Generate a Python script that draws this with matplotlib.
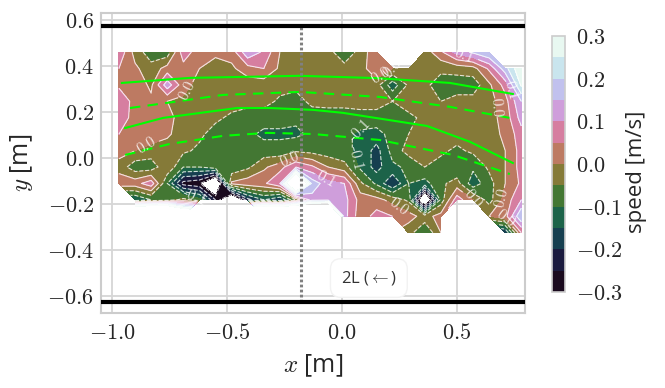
import numpy as np
import matplotlib
matplotlib.use("Agg")
import matplotlib.pyplot as plt

plt.rcParams["mathtext.fontset"] = "cm"
plt.rcParams["font.family"] = ["Open Sans", "DejaVu Sans"]

n = np.nan

# speed field, one row per y, top row first
x_grid = np.linspace(-0.97, 0.78, 26)
y_grid = np.linspace(0.46, -0.325, 12)
speed = np.array([
    [.09, -.02, -.08, -.08, .08, .02, .01, .02, .14, .09, .00, -.03, -.03, -.04, -.07, -.04, .05, n, n, -.03, .04, .12, .16, .20, n, n],
    [.05, .01, -.03, .02, .03, .00, -.02, -.01, .03, .05, -.01, -.03, -.03, -.03, -.04, -.03, .05, .00, -.02, -.03, -.04, -.03, -.02, .06, .18, .30],
    [.04, .03, -.01, .13, .02, -.02, -.03, -.03, -.03, -.03, -.03, -.03, -.03, -.03, -.03, -.03, -.03, -.13, -.04, -.04, -.07, -.08, -.08, -.01, .07, .26],
    [.09, .03, .01, .00, -.01, -.03, -.03, -.03, -.03, -.03, -.06, -.08, -.03, -.03, -.03, -.03, -.03, -.05, -.03, -.03, -.05, -.03, -.03, -.02, .03, .15],
    [.08, .03, .03, .015, -.02, -.03, -.04, -.06, -.08, -.08, -.09, -.09, -.09, -.08, -.08, -.07, -.07, -.08, -.06, -.04, -.03, -.03, -.03, -.02, .02, .12],
    [.05, .03, .03, .01, -.03, -.04, -.07, -.08, -.09, -.11, -.105, -.11, -.09, -.08, -.09, -.11, -.12, -.08, -.05, -.03, -.03, -.03, -.02, -.02, .01, .08],
    [.02, .00, -.02, -.03, -.04, -.06, -.08, -.09, -.08, -.08, -.09, -.06, -.07, -.08, -.09, -.11, -.17, -.08, -.03, -.03, -.04, -.06, -.04, -.03, .00, .07],
    [-.02, -.08, -.08, -.01, -.10, -.10, -.07, -.09, -.06, -.01, .03, .10, .06, .00, -.03, -.11, -.17, -.11, -.09, -.05, -.07, -.09, -.09, -.04, .00, .07],
    [.03, .03, .08, -.10, -.27, -.29, -.45, .01, .03, .04, .10, .60, .18, .12, .10, -.04, -.11, -.20, -.10, -.12, -.06, -.03, -.13, -.07, .00, .06],
    [n, -.15, -.10, -.08, -.03, -.08, -.25, -.45, -.22, -.15, -.20, -.05, .13, .14, .12, .03, .02, -.02, -.06, -.45, -.08, .08, .00, -.07, .02, .10],
    [n, 1.0, 1.0, 1.0, .60, n, n, n, n, 1.0, 1.0, 1.0, 1.0, 1.0, .12, .02, .07, .05, .02, -.02, .02, n, n, .00, .03, .20],
    [n, n, n, n, n, n, n, n, n, n, n, n, n, n, n, n, n, n, -.03, -.10, .00, n, n, n, -.20, .05],
])

speed_levels = [-.3, -.25, -.2, -.15, -.1, -.05, 0.0, .05, .1, .15, .2, .25, .3]
labelled_levels = [-.1, 0.0, .1]
plain_levels = [-.3, -.25, -.2, -.15, -.05, .05, .15, .2, .25, .3]
speed_colors = ["#1a0a1e", "#1b1b3f", "#163f50", "#1c6349", "#437733", "#857a38",
                "#bd7a62", "#d67ea0", "#cf9edb", "#c1c1ee", "#c9e5ee", "#e8f8f1"]

# bright green curves
upper_x = [-0.957, -0.661, -0.183, 0.152, 0.47, 0.743]
upper_y = [0.326, 0.348, 0.357, 0.347, 0.326, 0.278]
lower_x = [-0.943, -0.778, -0.457, -0.313, -0.126, 0.004, 0.37, 0.557, 0.743]
lower_y = [0.13, 0.174, 0.217, 0.217, 0.209, 0.196, 0.139, 0.07, -0.022]
dash_up_x = [-0.922, -0.735, -0.517, -0.183, 0.165, 0.47, 0.73]
dash_up_y = [0.217, 0.243, 0.274, 0.287, 0.265, 0.222, 0.174]
dash_low_x = [-0.943, -0.748, -0.517, -0.326, -0.126, 0.165, 0.483, 0.73]
dash_low_y = [0.013, 0.061, 0.096, 0.109, 0.104, 0.078, 0.013, -0.07]

wall_y = [0.575, -0.625]
section_x = -0.178

label_spots = [(-0.70, 0.30), (-0.94, 0.14), (-0.22, -0.01), (-0.62, -0.13),
               (0.17, 0.355), (0.255, 0.375), (0.53, 0.44), (-0.04, 0.23),
               (0.07, -0.0), (-0.10, -0.12), (0.71, 0.22), (0.69, -0.17),
               (0.53, -0.20), (0.19, -0.26), (0.72, 0.29), (0.72, -0.26)]

fig = plt.figure(figsize=(6.65, 3.88), dpi=100)
ax = fig.add_axes([101 / 665, 1 - 313 / 388, 424 / 665, 300 / 388])

cf = ax.contourf(x_grid, y_grid, speed, levels=speed_levels, colors=speed_colors, zorder=2)
ax.contour(x_grid, y_grid, speed, levels=plain_levels, colors="white", linewidths=0.8, alpha=0.8, zorder=3)
cl = ax.contour(x_grid, y_grid, speed, levels=labelled_levels, colors="white", linewidths=0.8, alpha=0.8, zorder=3)
labels = ax.clabel(cl, fmt="%1.1f", fontsize=11, colors="white", manual=label_spots)
for t in labels:
    t.set_fontfamily("cmr10")

ax.plot(upper_x, upper_y, color="#00ff00", lw=1.5, zorder=4)
ax.plot(lower_x, lower_y, color="#00ff00", lw=1.5, zorder=4)
ax.plot(dash_up_x, dash_up_y, color="#00ff00", lw=1.5, ls=(0, (5, 3.5)), zorder=4)
ax.plot(dash_low_x, dash_low_y, color="#00ff00", lw=1.5, ls=(0, (5, 3.5)), zorder=4)

for wy in wall_y:
    ax.axhline(wy, color="black", lw=3, zorder=5)
ax.plot([section_x, section_x], [wall_y[1], wall_y[0]], color="#808080", lw=2.2, ls=(0, (0.9, 0.75)), zorder=4)

ax.text(0.117, -0.522, r"2L ($\leftarrow$)", fontsize=12, color="#333333", ha="center", va="center", zorder=6,
        bbox=dict(boxstyle="round,pad=0.62", fc="white", ec="#f2f2f2", lw=1))

ax.set_xlim(-1.048, 0.796)
ax.set_ylim(-0.674, 0.63)
ax.set_xticks([-1.0, -0.5, 0.0, 0.5], ["$-1.0$", "$-0.5$", "$0.0$", "$0.5$"])
ax.set_yticks([-0.6, -0.4, -0.2, 0.0, 0.2, 0.4, 0.6],
              ["$-0.6$", "$-0.4$", "$-0.2$", "$0.0$", "$0.2$", "$0.4$", "$0.6$"])
ax.tick_params(length=0, labelsize=16, pad=5, colors="#262626")
ax.tick_params(axis="x", pad=7)
ax.grid(color="#d6d6d6", lw=1.3, zorder=0)
ax.set_axisbelow(True)
for s in ax.spines.values():
    s.set_color("#cccccc")
    s.set_linewidth(1.5)
ax.set_xlabel("$x$ [m]", fontsize=18, color="#262626", labelpad=6)
ax.set_ylabel("$y$ [m]", fontsize=18, color="#262626", labelpad=9)

cax = fig.add_axes([552 / 665, 1 - 292 / 388, 13 / 665, 256 / 388])
cb = fig.colorbar(cf, cax=cax, ticks=[-0.3, -0.2, -0.1, 0.0, 0.1, 0.2, 0.3])
cb.ax.set_yticklabels(["$-0.3$", "$-0.2$", "$-0.1$", "$0.0$", "$0.1$", "$0.2$", "$0.3$"])
cb.ax.tick_params(length=0, labelsize=16, pad=8, colors="#262626")
cb.outline.set_edgecolor("#cccccc")
cb.outline.set_linewidth(1.2)
cb.dividers.set_visible(False)
cb.set_label("speed [m/s]", fontsize=16, color="#262626", labelpad=2, y=0.47)

fig.savefig("out.png", dpi=100)
